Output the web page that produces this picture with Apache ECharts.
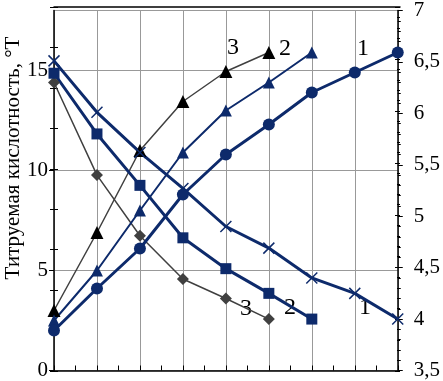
<!DOCTYPE html>
<html><head><meta charset="utf-8">
<script src="https://cdn.jsdelivr.net/npm/echarts@6/dist/echarts.min.js"></script>
<style>html,body{margin:0;padding:0;background:#fff}#c{width:443px;height:381px}</style>
</head><body><div id="c"></div>
<script>
// Day index (no labels on x axis)
const xs = [0, 1, 2, 3, 4, 5, 6, 7, 8];
// Titratable acidity, °T (left axis)
const acid1 = [2.0, 4.1, 6.1, 8.8, 10.8, 12.3, 13.9, 14.9, 15.9];
const acid2 = [2.5, 5.0, 8.0, 10.9, 13.0, 14.4, 15.9];
const acid3 = [3.0, 6.9, 11.0, 13.45, 14.95, 15.9];
// pH (right axis)
const ph1 = [6.51, 6.01, 5.62, 5.27, 4.90, 4.69, 4.40, 4.25, 4.00];
const ph2 = [6.39, 5.80, 5.30, 4.79, 4.49, 4.25, 4.00];
const ph3 = [6.30, 5.40, 4.81, 4.39, 4.20, 4.00];
const leftTicks = [0, 5, 10, 15];
const rightTicks = ['3,5', '4', '4,5', '5', '5,5', '6', '6,5', '7'];
const yTitle = 'Титруемая кислотность, °Т';
const curveLabels = ['1', '2', '3'];

const FONT = '"Liberation Serif", "Times New Roman", serif';
const NAVY = '#0d2a6b';
const DARK = '#404040';
const pairs = arr => arr.map((v, i) => [xs[i], v]);
const crossPath = 'path://M0,0L10,10M10,0L0,10';

const chart = echarts.init(document.getElementById('c'), null, {renderer: 'canvas'});
const G = {left: 54, top: 7, width: 346, height: 364};
const noShow = {show: false};

function ser(name, data, yIdx, symbol, size, color, lw, extra) {
  return Object.assign({
    name, type: 'line', data: pairs(data), xAxisIndex: 0, yAxisIndex: yIdx,
    symbol, symbolSize: size, showAllSymbol: true,
    lineStyle: {color, width: lw},
    itemStyle: {color, borderColor: color, borderWidth: 0},
    emphasis: {disabled: true}, animation: false
  }, extra || {});
}

chart.setOption({
  animation: false,
  grid: [Object.assign({}, G), Object.assign({}, G), Object.assign({}, G)],
  xAxis: [
    {gridIndex: 0, type: 'value', min: 0, max: 8, interval: 1, position: 'bottom',
     axisLine: {show: true, onZero: false, lineStyle: {color: '#000', width: 1.5}},
     axisTick: {show: true, inside: true, length: 5, lineStyle: {color: '#000'}},
     minorTick: {show: true, splitNumber: 2, length: 5, lineStyle: {color: '#000'}},
     axisLabel: noShow,
     splitLine: {show: true, lineStyle: {color: '#999999', width: 1}}},
    {gridIndex: 1, type: 'value', min: 0, max: 8, interval: 1, position: 'top',
     axisLine: {show: true, onZero: false, lineStyle: {color: '#000', width: 1.5}},
     axisTick: noShow, axisLabel: noShow, splitLine: noShow},
    {gridIndex: 2, type: 'value', min: 0, max: 8, interval: 1, show: false}
  ],
  yAxis: [
    {gridIndex: 0, type: 'value', position: 'left', min: 0, max: 18, interval: 5,
     axisLine: {show: true, onZero: false, lineStyle: {color: '#000', width: 1.5}},
     axisTick: {show: true, length: 5, lineStyle: {color: '#000'}},
     axisLabel: {show: true, showMaxLabel: false, margin: 6, color: '#000', fontFamily: FONT, fontSize: 21,
       formatter: v => leftTicks.includes(v) ? String(v) : ''},
     splitLine: {show: true, lineStyle: {color: '#999999', width: 1}}},
    {gridIndex: 0, type: 'value', position: 'right', min: 3.5, max: 7, interval: 0.5,
     axisLine: {show: true, onZero: false, lineStyle: {color: '#000', width: 1.5}},
     axisTick: {show: true, length: 5, lineStyle: {color: '#000'}},
     minorTick: {show: true, splitNumber: 5, length: 3, lineStyle: {color: '#000'}},
     axisLabel: {show: true, margin: 16, color: '#000', fontFamily: FONT, fontSize: 21,
       formatter: v => rightTicks[Math.round((v - 3.5) / 0.5)] || ''},
     splitLine: noShow},
    {gridIndex: 1, type: 'value', position: 'left', min: 0, max: 18, interval: 2,
     axisLine: {show: false, onZero: false},
     axisTick: {show: true, inside: true, length: 4, lineStyle: {color: '#000'}},
     axisLabel: noShow, splitLine: noShow},
    {gridIndex: 1, type: 'value', position: 'right', min: 3.5, max: 7, interval: 0.5,
     axisLine: {show: false, onZero: false},
     axisTick: {show: true, inside: true, length: 5, lineStyle: {color: '#000'}},
     minorTick: {show: true, splitNumber: 5, length: 3, lineStyle: {color: '#000'}},
     axisLabel: noShow, splitLine: noShow},
    {gridIndex: 2, type: 'value', position: 'left', min: 0, max: 18, interval: 2,
     axisLine: {show: false, onZero: false},
     axisTick: {show: true, length: 4, lineStyle: {color: '#000'}},
     axisLabel: noShow, splitLine: noShow}
  ],
  series: [
    ser('pH 3', ph3, 1, 'diamond', 12, DARK, 1.5),
    ser('Acid 3', acid3, 0, 'triangle', 13, '#000', 1.5, {lineStyle: {color: DARK, width: 1.5}}),
    ser('Acid 2', acid2, 0, 'triangle', 12, NAVY, 2),
    ser('pH 2', ph2, 1, 'rect', 11, NAVY, 3),
    ser('pH 1', ph1, 1, crossPath, 11, NAVY, 3, {itemStyle: {color: NAVY, borderColor: NAVY, borderWidth: 1.5}}),
    ser('Acid 1', acid1, 0, 'circle', 12, NAVY, 3)
  ],
  graphic: [
    {type: 'text', x: 13, y: 158, rotation: Math.PI / 2,
     style: {text: yTitle, fill: '#000', font: '21px ' + FONT, align: 'center', verticalAlign: 'middle'}},
    {type: 'text', x: 233, y: 48, style: {text: curveLabels[2], fill: '#000', font: '24px ' + FONT, align: 'center', verticalAlign: 'middle'}},
    {type: 'text', x: 285, y: 49, style: {text: curveLabels[1], fill: '#000', font: '24px ' + FONT, align: 'center', verticalAlign: 'middle'}},
    {type: 'text', x: 363, y: 49, style: {text: curveLabels[0], fill: '#000', font: '24px ' + FONT, align: 'center', verticalAlign: 'middle'}},
    {type: 'text', x: 246, y: 309, style: {text: curveLabels[2], fill: '#000', font: '24px ' + FONT, align: 'center', verticalAlign: 'middle'}},
    {type: 'text', x: 290, y: 308, style: {text: curveLabels[1], fill: '#000', font: '24px ' + FONT, align: 'center', verticalAlign: 'middle'}},
    {type: 'text', x: 365, y: 308, style: {text: curveLabels[0], fill: '#000', font: '24px ' + FONT, align: 'center', verticalAlign: 'middle'}}
  ]
});
</script></body></html>
